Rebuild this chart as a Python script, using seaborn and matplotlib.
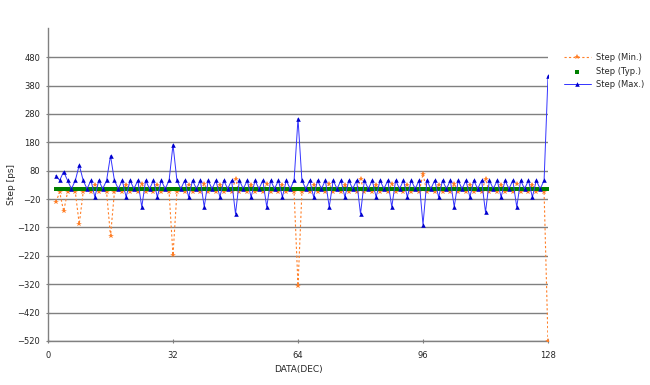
import matplotlib
matplotlib.use('Agg')
import matplotlib.pyplot as plt
import seaborn as sns
import pandas as pd

# DATA(DEC) codes 2..128
codes = list(range(2, 129))

# Step (Min.) in ps, rows: 2-8, 9-16, 17-24, ... 121-128
step_min = [
    -30, 4, -63, 4, 17, 4, -108,
    4, 17, 4, 30, 4, 17, 4, -150,
    4, 17, 4, 30, 4, 17, 4, 33,
    4, 17, 4, 30, 4, 17, 4, -218,
    4, 17, 4, 30, 4, 17, 4, 33,
    4, 17, 4, 30, 4, 17, 4, 51,
    4, 17, 4, 30, 4, 17, 4, 33,
    4, 17, 4, 30, 4, 17, 4, -325,
    4, 17, 4, 30, 4, 17, 4, 33,
    4, 17, 4, 30, 4, 17, 4, 51,
    4, 17, 4, 30, 4, 17, 4, 33,
    4, 17, 4, 30, 4, 17, 4, 69,
    4, 17, 4, 30, 4, 17, 4, 33,
    4, 17, 4, 30, 4, 17, 4, 51,
    4, 17, 4, 30, 4, 17, 4, 33,
    4, 17, 4, 30, 4, 17, 4, -520,
]

# Step (Typ.) in ps
step_typ = [
    17, 17, 17, 17, 17, 17, 17,
    17, 17, 17, 17, 17, 17, 17, 17,
    17, 17, 17, 17, 17, 17, 17, 17,
    17, 17, 17, 17, 17, 17, 17, 17,
    17, 17, 17, 17, 17, 17, 17, 17,
    17, 17, 17, 17, 17, 17, 17, 17,
    17, 17, 17, 17, 17, 17, 17, 17,
    17, 17, 17, 17, 17, 17, 17, 17,
    17, 17, 17, 17, 17, 17, 17, 17,
    17, 17, 17, 17, 17, 17, 17, 17,
    17, 17, 17, 17, 17, 17, 17, 17,
    17, 17, 17, 17, 17, 17, 17, 17,
    17, 17, 17, 17, 17, 17, 17, 17,
    17, 17, 17, 17, 17, 17, 17, 17,
    17, 17, 17, 17, 17, 17, 17, 17,
    17, 17, 17, 17, 17, 17, 17, 17,
]

# Step (Max.) in ps
step_max = [
    63, 46, 77, 46, 16, 46, 100,
    46, 16, 46, -13, 46, 16, 46, 133,
    46, 16, 46, -13, 46, 16, 46, -48,
    46, 16, 46, -13, 46, 16, 46, 172,
    46, 16, 46, -13, 46, 16, 46, -48,
    46, 16, 46, -13, 46, 16, 46, -72,
    46, 16, 46, -13, 46, 16, 46, -48,
    46, 16, 46, -13, 46, 16, 46, 264,
    46, 16, 46, -13, 46, 16, 46, -48,
    46, 16, 46, -13, 46, 16, 46, -72,
    46, 16, 46, -13, 46, 16, 46, -48,
    46, 16, 46, -13, 46, 16, 46, -110,
    46, 16, 46, -13, 46, 16, 46, -48,
    46, 16, 46, -13, 46, 16, 46, -66,
    46, 16, 46, -13, 46, 16, 46, -48,
    46, 16, 46, -13, 46, 16, 46, 414,
]

x_ticks = [0, 32, 64, 96, 128]
y_ticks = [-520, -420, -320, -220, -120, -20, 80, 180, 280, 380, 480]

df = pd.DataFrame({'code': codes, 'min': step_min, 'typ': step_typ, 'max': step_max})

sns.set_style('white')
plt.rcParams['font.family'] = ['DejaVu Sans']

fig = plt.figure(figsize=(6.5, 3.85), dpi=100)
ax = fig.add_axes([48 / 650, 1 - 341 / 385, 500 / 650, (341 - 28) / 385])

# gridlines
for yv in y_ticks:
    ax.axhline(yv, color='#808080', lw=1.0, zorder=0)

sns.lineplot(data=df, x='code', y='min', ax=ax, color='#FF7F27', lw=0.8,
             linestyle=(0, (2, 2)), marker='*', markersize=4,
             markeredgewidth=0, label='Step (Min.)', zorder=3)
sns.scatterplot(data=df, x='code', y='typ', ax=ax, color='#008000', marker='s',
                s=9, linewidth=0, label='Step (Typ.)', zorder=4)
sns.lineplot(data=df, x='code', y='max', ax=ax, color='#3333FF', lw=0.7,
             marker='^', markersize=3.3, markerfacecolor='#0000CC',
             markeredgecolor='#0000CC', markeredgewidth=0,
             label='Step (Max.)', zorder=5)

ax.set_xlim(0, 128)
ax.set_ylim(-520, 583)
ax.set_xticks(x_ticks)
ax.set_yticks(y_ticks)
ax.tick_params(axis='both', labelsize=6, length=3, width=0.8, color='#808080',
               direction='inout', bottom=True, left=True)
ax.tick_params(axis='x', pad=6)
ax.tick_params(axis='y', pad=4)
ax.set_xlabel('DATA(DEC)', fontsize=6.5, labelpad=3)
ax.set_ylabel('Step [ps]', fontsize=6.5, labelpad=1)

for side in ['left', 'bottom']:
    ax.spines[side].set_color('#808080')
    ax.spines[side].set_linewidth(1.0)
ax.spines['top'].set_visible(False)
ax.spines['right'].set_visible(False)

ax.legend(loc='upper left', bbox_to_anchor=(1.025, 0.93), frameon=False,
          fontsize=6, handlelength=3.2, borderaxespad=0, labelspacing=0.55,
          handletextpad=0.6)

fig.savefig('out.png', dpi=100)
